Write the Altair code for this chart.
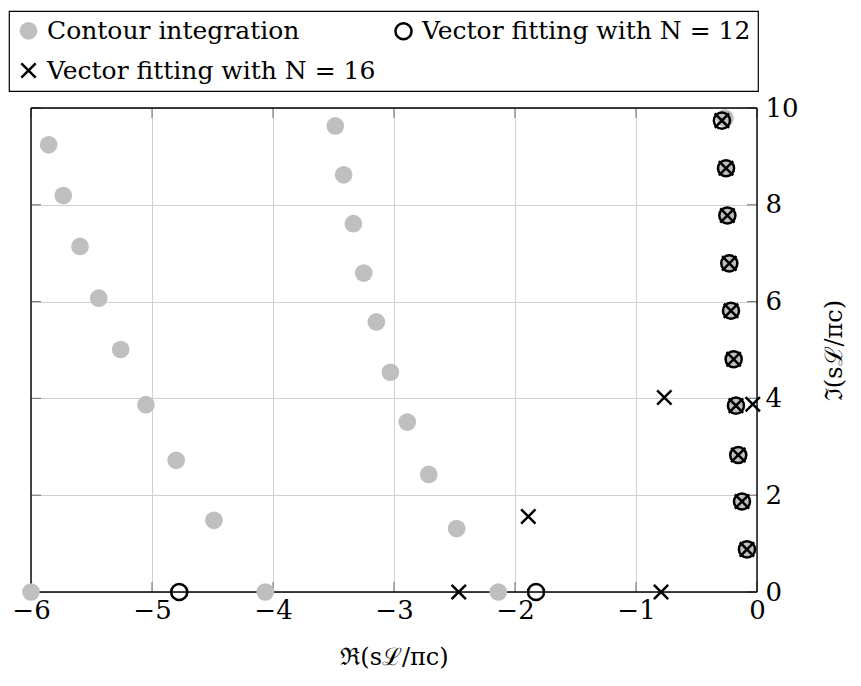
import altair as alt
import pandas as pd

# ---- data ----
contour_re = [-6.0, -4.488, -4.80, -5.05, -5.259, -5.44, -5.595, -5.733, -5.854,
              -4.064, -2.138, -2.482, -2.713, -2.89, -3.03, -3.146, -3.25, -3.336, -3.416, -3.485,
              -0.083, -0.124, -0.155, -0.174, -0.193, -0.215, -0.229, -0.245, -0.256, -0.265]
contour_im = [0.0, 1.48, 2.72, 3.87, 5.01, 6.07, 7.14, 8.19, 9.24,
              0.0, 0.0, 1.31, 2.43, 3.51, 4.54, 5.58, 6.59, 7.61, 8.62, 9.63,
              0.88, 1.87, 2.83, 3.85, 4.81, 5.81, 6.79, 7.78, 8.755, 9.79]

n12_re = [-4.775, -1.826, -0.083, -0.124, -0.155, -0.174, -0.193, -0.215, -0.229, -0.245, -0.256, -0.29]
n12_im = [0.0, 0.0, 0.88, 1.87, 2.83, 3.85, 4.81, 5.81, 6.79, 7.78, 8.755, 9.74]

n16_re = [-2.465, -0.793, -1.89, -0.766, -0.035,
          -0.083, -0.124, -0.155, -0.174, -0.193, -0.215, -0.229, -0.245, -0.256, -0.29]
n16_im = [0.0, 0.0, 1.56, 4.02, 3.88,
          0.88, 1.87, 2.83, 3.85, 4.81, 5.81, 6.79, 7.78, 8.755, 9.74]

series_names = ["Contour integration", "Vector fitting with N = 12", "Vector fitting with N = 16"]
x_ticks = [-6, -5, -4, -3, -2, -1, 0]
y_ticks = [0, 2, 4, 6, 8, 10]

W, H = 726, 484
FONT = "DejaVu Serif"

rows = []
for name, re, im in zip(series_names, [contour_re, n12_re, n16_re], [contour_im, n12_im, n16_im]):
    for a, b in zip(re, im):
        rows.append({"series": name, "re": a, "im": b})
df = pd.DataFrame(rows)

xt = pd.DataFrame({"re": x_ticks})
yt = pd.DataFrame({"im": y_ticks})
one = pd.DataFrame({"k": [0]})

xscale = alt.Scale(domain=[-6, 0], nice=False, zero=False)
yscale = alt.Scale(domain=[0, 10], nice=False, zero=False)

X = alt.X("re:Q", scale=xscale, axis=alt.Axis(
    title="ℜ(sℒ/πc)", values=x_ticks, grid=True, ticks=False, domain=False,
    labelFlush=False, labelOverlap=False, labelPadding=5, titlePadding=22,
    labelFontSize=26, titleFontSize=24, labelFont=FONT, titleFont=FONT,
    titleFontWeight="normal", labelColor="black", titleColor="black",
    gridColor="#d0d0d0", gridWidth=1))
Y = alt.Y("im:Q", scale=yscale, axis=alt.Axis(
    title="ℑ(sℒ/πc)", orient="right", values=y_ticks, grid=True, ticks=False, domain=False,
    labelFlush=False, labelOverlap=False, labelPadding=8, titlePadding=48, titleAngle=270,
    labelFontSize=26, titleFontSize=24, labelFont=FONT, titleFont=FONT,
    titleFontWeight="normal", labelColor="black", titleColor="black",
    gridColor="#d0d0d0", gridWidth=1))

cross_path = "M-1,-1L1,1M1,-1L-1,1"
legend = alt.Legend(orient="none", legendX=-22, legendY=-97, columns=2, direction="horizontal",
                    strokeColor="black", padding=7, rowPadding=13, columnPadding=14,
                    labelFontSize=25, labelFont=FONT, labelColor="black", labelLimit=600,
                    labelOffset=6, symbolStrokeWidth=2.5, title=None)

enc_shape = alt.Shape("series:N", scale=alt.Scale(domain=series_names, range=["circle", "circle", cross_path]), legend=legend)
enc_fill = alt.Fill("series:N", scale=alt.Scale(domain=series_names, range=["#bfbfbf", "transparent", "transparent"]), legend=legend)
enc_stroke = alt.Stroke("series:N", scale=alt.Scale(domain=series_names, range=["transparent", "black", "black"]), legend=legend)
enc_size = alt.Size("series:N", scale=alt.Scale(domain=series_names, range=[313, 205, 110]), legend=legend)

base = alt.Chart(df)
layers = []
for name in series_names:
    layers.append(
        base.transform_filter(alt.datum.series == name)
        .mark_point(strokeWidth=2.5, opacity=1)
        .encode(x=X, y=Y, shape=enc_shape, fill=enc_fill, stroke=enc_stroke, size=enc_size)
    )

tick_col = "#808080"
xt_bottom = alt.Chart(xt).mark_rule(color=tick_col, strokeWidth=1.2).encode(x=X, y=alt.value(H), y2=alt.value(H - 10))
xt_top = alt.Chart(xt).mark_rule(color=tick_col, strokeWidth=1.2).encode(x=X, y=alt.value(0), y2=alt.value(10))
yt_left = alt.Chart(yt).mark_rule(color=tick_col, strokeWidth=1.2).encode(y=Y, x=alt.value(0), x2=alt.value(10))
yt_right = alt.Chart(yt).mark_rule(color=tick_col, strokeWidth=1.2).encode(y=Y, x=alt.value(W), x2=alt.value(W - 10))

frame_style = dict(color="black", strokeWidth=1.4)
f_top = alt.Chart(one).mark_rule(**frame_style).encode(x=alt.value(0), x2=alt.value(W), y=alt.value(0))
f_bot = alt.Chart(one).mark_rule(**frame_style).encode(x=alt.value(0), x2=alt.value(W), y=alt.value(H))
f_left = alt.Chart(one).mark_rule(**frame_style).encode(y=alt.value(0), y2=alt.value(H), x=alt.value(0))
f_right = alt.Chart(one).mark_rule(**frame_style).encode(y=alt.value(0), y2=alt.value(H), x=alt.value(W))

chart = alt.layer(xt_bottom, xt_top, yt_left, yt_right, f_top, f_bot, f_left, f_right, *layers).properties(
    width=W, height=H, padding={"left": 0, "top": 2, "right": 0, "bottom": 0}
).configure_view(stroke=None).configure_legend(strokeWidth=1.2)

chart.save("out.html", embed_options={"renderer": "svg", "actions": False})
